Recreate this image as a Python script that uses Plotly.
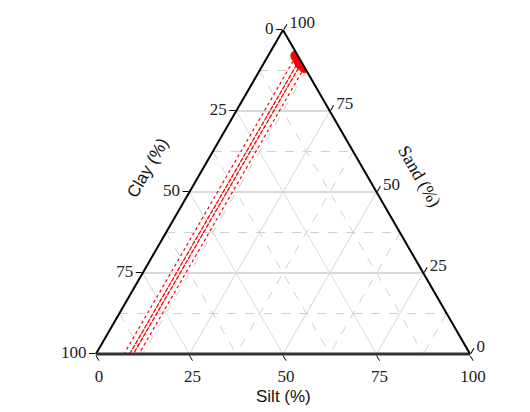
import plotly.graph_objects as go

# Sample compositions (%)
sand = [92.0, 91.0, 90.5, 90.0, 89.5, 88.5]
clay = [0.5, 0.0, 0.5, 0.0, 0.5, 0.0]
silt = [7.5, 9.0, 9.0, 10.0, 10.0, 11.5]

tick_vals = [0, 25, 50, 75, 100]
tick_text_rev = ["100", "75", "50", "25", "0"]
minor_vals = [12.5, 37.5, 62.5, 87.5]

W, H = 530, 412
ML, MR, MT, MB = 40, 20, 22, 66

def px(x, y):
    return (x - ML) / (W - ML - MR), 1 - (y - MT) / (H - MT - MB)

fig = go.Figure()

# minor dashed gridlines
for v in minor_vals:
    for a, b, c in [
        ([v, v], [100 - v, 0], [0, 100 - v]),
        ([100 - v, 0], [v, v], [0, 100 - v]),
        ([100 - v, 0], [0, 100 - v], [v, v]),
    ]:
        fig.add_trace(go.Scatterternary(
            a=a, b=b, c=c, mode="lines",
            line=dict(color="#cfcfcf", width=1, dash="dash"),
            hoverinfo="skip", showlegend=False))

# drop lines (constant silt) to the silt axis
for s, cl, si in zip(sand, clay, silt):
    fig.add_trace(go.Scatterternary(
        a=[s, 0], b=[cl, 100 - si], c=[si, si], mode="lines",
        line=dict(color="red", width=1.2, dash="dot"),
        hoverinfo="skip", showlegend=False))

fig.add_trace(go.Scatterternary(
    a=sand, b=clay, c=silt, mode="markers",
    marker=dict(color="red", size=11, line=dict(color="#d00000", width=0.5)),
    showlegend=False))

axis_common = dict(
    tickvals=tick_vals, ticktext=tick_text_rev, ticks="outside", ticklen=6,
    tickfont=dict(family="Liberation Serif", size=17, color="#222"),
    title=dict(text=""), showgrid=True, min=0,
)

fig.update_layout(
    width=W, height=H,
    margin=dict(l=ML, r=MR, t=MT, b=MB),
    paper_bgcolor="white",
    ternary=dict(
        sum=100,
        bgcolor="white",
        domain=dict(x=[0, 1], y=[0, 1]),
        aaxis=dict(**axis_common, gridcolor="#b5b5b5", linecolor="black",
                   linewidth=2, tickcolor="black"),
        baxis=dict(**axis_common, gridcolor="#dadada", linecolor="#333",
                   linewidth=3, tickcolor="black"),
        caxis=dict(**axis_common, gridcolor="#dadada", linecolor="black",
                   linewidth=2, tickcolor="black"),
    ),
)

x, y = px(112, 160)
fig.add_annotation(x=x, y=y, xref="paper", yref="paper", text="Clay (%)",
                   textangle=-60, showarrow=False,
                   font=dict(family="Liberation Sans", size=17, color="#111"))
x, y = px(440, 168)
fig.add_annotation(x=x, y=y, xref="paper", yref="paper", text="Sand (%)",
                   textangle=60, showarrow=False,
                   font=dict(family="Liberation Serif", size=18, color="#111"))
x, y = px(275, 400)
fig.add_annotation(x=x, y=y, xref="paper", yref="paper", text="Silt (%)",
                   showarrow=False,
                   font=dict(family="Liberation Sans", size=17, color="#111"))

fig.write_html("out.html")
